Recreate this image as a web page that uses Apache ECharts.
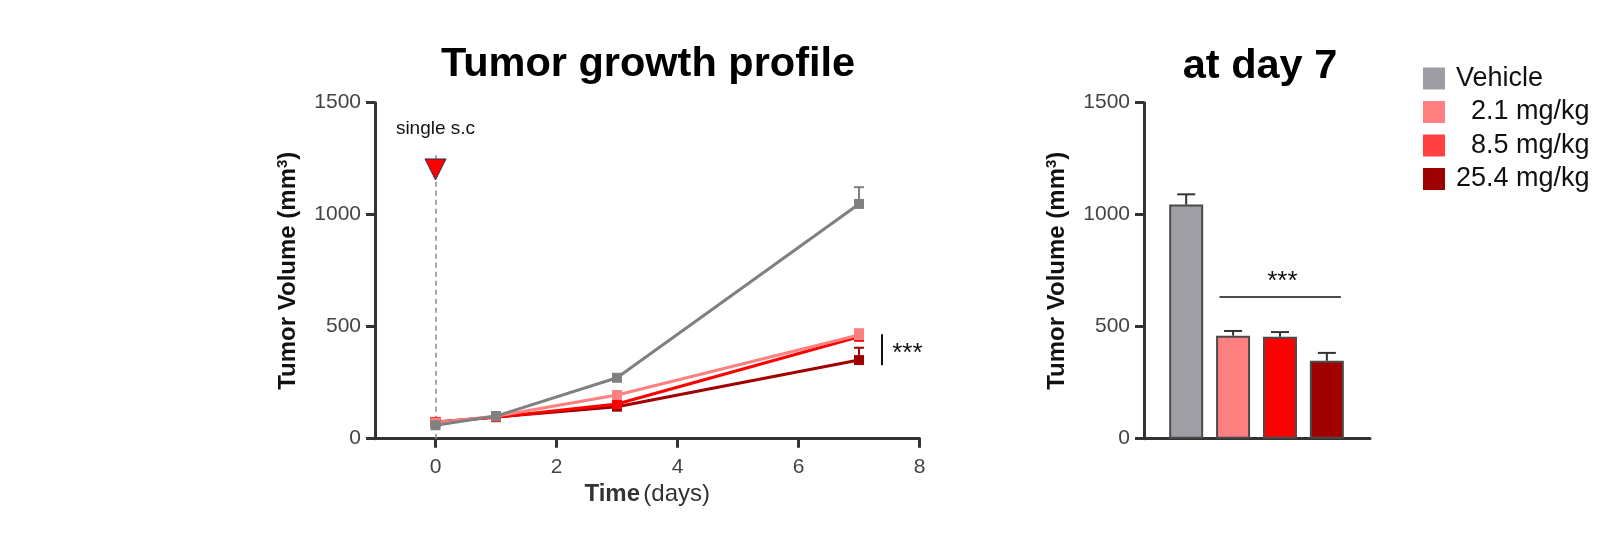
<!DOCTYPE html>
<html>
<head>
<meta charset="utf-8">
<script src="https://cdn.jsdelivr.net/npm/echarts@6/dist/echarts.min.js"></script>
<style>
html,body{margin:0;padding:0;background:#fff;}
#chart{width:1598px;height:534px;}
</style>
</head>
<body>
<div id="chart"></div>
<script>
// ---- data ----
const days = [0, 1, 3, 7];
const groupNames = ['Vehicle', '  2.1 mg/kg', '  8.5 mg/kg', '25.4 mg/kg'];
const vehicleMean = [60, 101, 272, 1048];
const vehicleErr  = [8, 10, 12, 75];
const dose21Mean  = [72, 100, 195, 463];
const dose21Err   = [5, 8, 14, 26];
const dose85Mean  = [75, 96, 155, 455];
const dose85Err   = [5, 8, 12, 20];
const dose254Mean = [74, 97, 143, 351];
const dose254Err  = [5, 8, 10, 55];
const day7Positions = [0, 1, 2, 3];
const day7Mean = [1045, 460, 455, 348];
const day7Err  = [46, 21, 21, 35];
const yTicks = [0, 500, 1000, 1500];
const xTicks = [0, 2, 4, 6, 8];
const doseDay = 0;
const doseMarkerY = 1202;
const doseLineTop = 1265;
const doseLabelY = 1383;
const lineSig = {x: 7.38, y1: 328, y2: 466, textX: 7.8, textY: 378};
const barSig = {x1: 0.71, x2: 3.30, y: 632, textX: 2.05, textY: 700};

// ---- styles ----
const FONT = "'Liberation Sans', Arial, Helvetica, sans-serif";
const lineColors = ['#808080', '#ff8080', '#ff0000', '#a00000'];
const barColors = ['#a09fa5', '#ff8080', '#ff0000', '#a00000'];
const legendColors = ['#9e9da3', '#ff8080', '#ff4040', '#9c0000'];
const axisColor = '#333333';

const means = [vehicleMean, dose21Mean, dose85Mean, dose254Mean];
const errs = [vehicleErr, dose21Err, dose85Err, dose254Err];

function errRender(colorFn, capHalf, lw) {
  return function (params, api) {
    const x = api.value(0), y = api.value(1), e = api.value(2);
    const p0 = api.coord([x, y]);
    const p1 = api.coord([x, y + e]);
    const c = colorFn(params.dataIndex);
    return {
      type: 'group',
      children: [
        {type: 'line', shape: {x1: p0[0], y1: p0[1], x2: p1[0], y2: p1[1]}, style: {stroke: c, lineWidth: lw}},
        {type: 'line', shape: {x1: p1[0] - capHalf, y1: p1[1], x2: p1[0] + capHalf, y2: p1[1]}, style: {stroke: c, lineWidth: lw}}
      ]
    };
  };
}

const series = [];
// draw order: 25.4, 8.5, 2.1, vehicle (vehicle on top)
[3, 2, 1, 0].forEach((g, k) => {
  series.push({
    type: 'custom',
    xAxisIndex: 0, yAxisIndex: 0,
    silent: true,
    z: 2 + k * 2,
    renderItem: errRender(() => lineColors[g], 5, 2),
    data: days.map((d, i) => [d, means[g][i], errs[g][i]])
  });
  series.push({
    name: groupNames[g],
    type: 'line',
    xAxisIndex: 0, yAxisIndex: 0,
    z: 3 + k * 2,
    symbol: 'rect',
    symbolSize: 10,
    lineStyle: {color: lineColors[g], width: 3},
    itemStyle: {color: lineColors[g]},
    data: days.map((d, i) => [d, means[g][i]])
  });
});

// annotations on the growth plot
series.push({
  type: 'scatter',
  xAxisIndex: 0, yAxisIndex: 0,
  data: [],
  silent: true,
  z: 1,
  markLine: {
    silent: true,
    symbol: ['none', 'none'],
    label: {show: false},
    data: [
      [{coord: [doseDay, 0], lineStyle: {type: [5, 4], color: '#8a8a8a', width: 1.5}}, {coord: [doseDay, doseLineTop]}],
      [{coord: [lineSig.x, lineSig.y1], lineStyle: {type: 'solid', color: '#111', width: 2}}, {coord: [lineSig.x, lineSig.y2]}]
    ]
  },
  markPoint: {
    silent: true,
    data: [
      {coord: [doseDay, doseMarkerY], symbol: 'triangle', symbolRotate: 180, symbolSize: [21, 21],
       itemStyle: {color: '#ff0000', borderColor: '#2d3250', borderWidth: 1}, label: {show: false}},
      {coord: [doseDay, doseLabelY], symbol: 'rect', symbolSize: 1, itemStyle: {color: 'rgba(0,0,0,0)'},
       label: {show: true, position: 'inside', formatter: 'single s.c', fontFamily: FONT, fontSize: 19, color: '#111'}},
      {coord: [lineSig.textX, lineSig.textY], symbol: 'rect', symbolSize: 1, itemStyle: {color: 'rgba(0,0,0,0)'},
       label: {show: true, position: 'inside', formatter: '***', fontFamily: FONT, fontSize: 26, color: '#111'}}
    ]
  }
});

// bars at day 7
series.push({
  type: 'bar',
  xAxisIndex: 1, yAxisIndex: 1,
  barWidth: 34,
  z: 2,
  data: day7Positions.map((p, i) => ({
    value: [p, day7Mean[i]],
    itemStyle: {color: barColors[i], borderColor: '#4a4a4a', borderWidth: 2}
  }))
});
series.push({
  type: 'custom',
  xAxisIndex: 1, yAxisIndex: 1,
  silent: true,
  z: 1,
  renderItem: errRender(() => '#333', 9, 2),
  data: day7Positions.map((p, i) => [p, day7Mean[i], day7Err[i]])
});
series.push({
  type: 'scatter',
  xAxisIndex: 1, yAxisIndex: 1,
  data: [],
  silent: true,
  markLine: {
    silent: true,
    symbol: ['none', 'none'],
    label: {show: false},
    data: [[{coord: [barSig.x1, barSig.y], lineStyle: {type: 'solid', color: '#111', width: 1.5}}, {coord: [barSig.x2, barSig.y]}]]
  },
  markPoint: {
    silent: true,
    data: [
      {coord: [barSig.textX, barSig.textY], symbol: 'rect', symbolSize: 1, itemStyle: {color: 'rgba(0,0,0,0)'},
       label: {show: true, position: 'inside', formatter: '***', fontFamily: FONT, fontSize: 26, color: '#111'}}
    ]
  }
});

const yName = '{b|Tumor Volume (mm}{s|3}{b|)}';
const yNameStyle = {
  rich: {
    b: {fontFamily: FONT, fontSize: 24, fontWeight: 'bold', color: '#111', lineHeight: 27},
    s: {fontFamily: FONT, fontSize: 15, fontWeight: 'bold', color: '#111', verticalAlign: 'top', lineHeight: 15}
  }
};
function yAxisCfg(gridIndex) {
  return {
    type: 'value', gridIndex: gridIndex,
    min: yTicks[0], max: yTicks[yTicks.length - 1], interval: yTicks[1] - yTicks[0],
    name: yName, nameLocation: 'middle', nameGap: 73, nameTextStyle: yNameStyle,
    axisLine: {show: true, onZero: false, lineStyle: {color: axisColor, width: 3}},
    axisTick: {show: true, length: 9, lineStyle: {color: axisColor, width: 3}},
    axisLabel: {margin: 14, fontFamily: FONT, fontSize: 21, color: '#444', formatter: v => String(v)},
    splitLine: {show: false}
  };
}

const option = {
  backgroundColor: '#ffffff',
  animation: false,
  textStyle: {fontFamily: FONT},
  grid: [
    {left: 375, right: 678.5, top: 102.7, bottom: 95.3, containLabel: false, outerBoundsMode: 'none'},
    {left: 1144, right: 228, top: 102.7, bottom: 95.3, containLabel: false, outerBoundsMode: 'none'}
  ],
  xAxis: [
    {
      type: 'value', gridIndex: 0, min: -1, max: 8,
      name: '{b|Time} {n|(days)}', nameLocation: 'middle', nameGap: 40,
      nameTextStyle: {rich: {
        b: {fontFamily: FONT, fontSize: 24, fontWeight: 'bold', color: '#333'},
        n: {fontFamily: FONT, fontSize: 24, color: '#333'}
      }},
      axisLine: {show: true, onZero: false, lineStyle: {color: axisColor, width: 3}},
      axisTick: {show: true, length: 9, customValues: xTicks, lineStyle: {color: axisColor, width: 3}},
      axisLabel: {margin: 18, customValues: xTicks, fontFamily: FONT, fontSize: 21, color: '#444', formatter: v => String(v)},
      splitLine: {show: false}
    },
    {
      type: 'value', gridIndex: 1, min: -0.9, max: 3.92,
      axisLine: {show: true, onZero: false, lineStyle: {color: axisColor, width: 3}},
      axisTick: {show: false},
      axisLabel: {show: false},
      splitLine: {show: false}
    }
  ],
  yAxis: [yAxisCfg(0), yAxisCfg(1)],
  legend: {
    orient: 'vertical',
    left: 1423, top: 65,
    padding: 0,
    icon: 'rect',
    itemWidth: 22, itemHeight: 22, itemGap: 6.5,
    selectedMode: false,
    textStyle: {fontFamily: FONT, fontSize: 27, color: '#111', padding: [0, 0, 0, 6]},
    data: groupNames.map((n, i) => ({name: n, itemStyle: {color: legendColors[i], borderWidth: 0}}))
  },
  graphic: [
    {type: 'text', x: 648, y: 64.5, silent: true,
     style: {text: 'Tumor growth profile', align: 'center', verticalAlign: 'middle',
             font: "bold 41.5px 'Liberation Sans', Arial, sans-serif", fill: '#000'}},
    {type: 'text', x: 1260, y: 67, silent: true,
     style: {text: 'at day 7', align: 'center', verticalAlign: 'middle',
             font: "bold 41.5px 'Liberation Sans', Arial, sans-serif", fill: '#000'}}
  ],
  series: series
};

const chart = echarts.init(document.getElementById('chart'), null, {renderer: 'canvas'});
chart.setOption(option);
</script>
</body>
</html>
